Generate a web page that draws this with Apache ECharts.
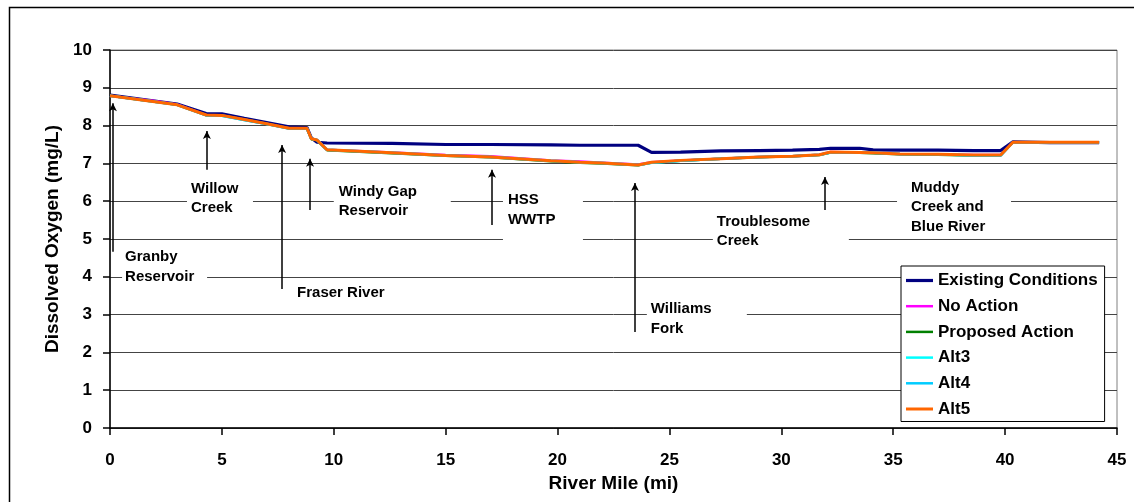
<!DOCTYPE html>
<html>
<head>
<meta charset="utf-8">
<script src="https://cdn.jsdelivr.net/npm/echarts@6/dist/echarts.min.js"></script>
<style>html,body{margin:0;padding:0;background:#fff}#c{width:1134px;height:502px}</style>
</head>
<body>
<div id="c"></div>
<script>
// ---- data ----
const miles = [0, 1, 2, 3, 4.3, 5, 6, 7, 8, 8.8, 9.0, 9.25, 9.7, 12.6, 15, 17, 19.7, 21, 22, 23.6, 24.2, 25.5, 27.3, 29, 30.5, 31.7, 32.2, 33.5, 34.1, 35.3, 37, 38.6, 39.8, 40.35, 42, 44.2];
const existing = [8.81, 8.73, 8.65, 8.57, 8.32, 8.31, 8.19, 8.08, 7.97, 7.95, 7.67, 7.56, 7.54, 7.53, 7.50, 7.50, 7.49, 7.48, 7.48, 7.48, 7.29, 7.30, 7.33, 7.34, 7.35, 7.37, 7.40, 7.40, 7.36, 7.35, 7.35, 7.34, 7.34, 7.57, 7.55, 7.55];
const noAction = [8.79, 8.72, 8.65, 8.56, 8.28, 8.27, 8.16, 8.05, 7.93, 7.93, 7.65, 7.62, 7.36, 7.29, 7.22, 7.19, 7.08, 7.05, 7.02, 6.97, 7.03, 7.08, 7.12, 7.17, 7.19, 7.23, 7.30, 7.29, 7.28, 7.25, 7.24, 7.22, 7.22, 7.56, 7.56, 7.56];
const proposed = [8.79, 8.71, 8.63, 8.55, 8.28, 8.27, 8.16, 8.05, 7.93, 7.93, 7.64, 7.61, 7.35, 7.27, 7.20, 7.16, 7.06, 7.02, 7.00, 6.95, 7.02, 7.07, 7.12, 7.16, 7.19, 7.22, 7.29, 7.28, 7.27, 7.24, 7.23, 7.21, 7.21, 7.56, 7.56, 7.56];
const alt3 = [8.79, 8.71, 8.63, 8.55, 8.27, 8.26, 8.15, 8.04, 7.92, 7.92, 7.65, 7.62, 7.36, 7.28, 7.21, 7.17, 7.07, 7.03, 7.01, 6.96, 7.02, 7.07, 7.12, 7.17, 7.19, 7.23, 7.29, 7.28, 7.28, 7.25, 7.24, 7.21, 7.21, 7.56, 7.56, 7.56];
const alt4 = [8.79, 8.71, 8.63, 8.55, 8.27, 8.26, 8.15, 8.04, 7.92, 7.92, 7.65, 7.62, 7.36, 7.28, 7.21, 7.17, 7.07, 7.03, 7.01, 6.96, 7.02, 7.07, 7.12, 7.17, 7.19, 7.23, 7.29, 7.28, 7.28, 7.25, 7.24, 7.21, 7.21, 7.56, 7.56, 7.56];
const alt5 = [8.79, 8.71, 8.63, 8.55, 8.28, 8.27, 8.16, 8.05, 7.93, 7.93, 7.65, 7.62, 7.36, 7.28, 7.21, 7.17, 7.07, 7.03, 7.01, 6.96, 7.03, 7.08, 7.12, 7.17, 7.19, 7.23, 7.30, 7.29, 7.28, 7.25, 7.24, 7.22, 7.22, 7.56, 7.56, 7.56];
const seriesNames = ['Existing Conditions', 'No Action', 'Proposed Action', 'Alt3', 'Alt4', 'Alt5'];
const xTicks = [0, 5, 10, 15, 20, 25, 30, 35, 40, 45];
const yTicks = [0, 1, 2, 3, 4, 5, 6, 7, 8, 9, 10];

// annotations (data-space)
const annoText = ['Granby\nReservoir', 'Willow\nCreek', 'Fraser River', 'Windy Gap\nReservoir', 'HSS\nWWTP', 'Williams\nFork', 'Troublesome\nCreek', 'Muddy\nCreek and\nBlue River'];
const arrowMile = [0.13, 4.33, 7.69, 8.94, 17.07, 23.46, 31.95, 39.86];
const arrowFrom = [4.66, 6.83, 3.68, 5.77, 5.37, 2.54, 5.77, 5.90];
const arrowTo   = [8.59, 7.86, 7.49, 7.12, 6.83, 6.48, 6.64, 6.56];
const labelMile = [0.54, 3.44, 8.18, 10.0, 17.56, 23.99, 26.94, 35.17];
const labelVal  = [4.83, 6.64, 3.88, 6.57, 6.34, 3.45, 5.77, 6.67];

// ---- styles ----
const FONT = "'Liberation Sans', Arial, sans-serif";
const colors = ['#000080', '#FF00FF', '#008000', '#00FFFF', '#00CCFF', '#FF6600'];
const widths = [3.2, 2.5, 2.5, 2.5, 2.5, 3];
const labelPad = [[2,4,2,3],[2,4,2,4],[2,4,2,4],[2,30,4,5],[2,4,20,5],[2,4,2,4],[2,40,2,4],[2,4,2,14]];
const labelW = [78, 58, 95, 82, 71, 92, 92, 96];

const allData = [existing, noAction, proposed, alt3, alt4, alt5];
const series = allData.map((arr, i) => ({
  name: seriesNames[i],
  type: 'line',
  data: miles.map((m, j) => [m, arr[j]]),
  symbol: 'none',
  lineStyle: { color: colors[i], width: widths[i] },
  itemStyle: { color: colors[i] },
  z: 2 + i * 0.1,
  silent: true
}));

series.push({
  name: 'labels',
  type: 'line',
  data: [],
  z: 5,
  silent: true,
  markPoint: {
    silent: true,
    symbol: 'circle',
    symbolSize: 0,
    data: annoText.map((t, i) => ({
      coord: [labelMile[i], labelVal[i]],
      label: {
        show: true,
        formatter: t,
        position: [0, 0],
        align: 'left',
        verticalAlign: 'top',
        fontFamily: FONT,
        fontSize: 15,
        fontWeight: 'bold',
        lineHeight: 19.5,
        color: '#000',
        backgroundColor: '#fff',
        padding: labelPad[i],
        width: labelW[i]
      }
    }))
  }
});

series.push({
  name: 'arrows',
  type: 'line',
  data: [],
  z: 8,
  silent: true,
  markLine: {
    silent: true,
    symbol: ['none', 'arrow'],
    symbolSize: [6, 8],
    precision: 3,
    label: { show: false },
    lineStyle: { color: '#000', width: 1.5, type: 'solid' },
    data: arrowMile.map((m, i) => [
      { coord: [m, arrowFrom[i]] },
      { coord: [m, arrowTo[i]] }
    ])
  }
});

const chart = echarts.init(document.getElementById('c'), null, { renderer: 'canvas' });
chart.setOption({
  animation: false,
  backgroundColor: '#fff',
  textStyle: { fontFamily: FONT },
  graphic: [{
    type: 'rect', left: 7, top: 5, z: 100,
    shape: { width: 1140, height: 520 },
    style: { fill: 'none', stroke: '#000', lineWidth: 1.5 }
  }],
  grid: { left: 110, right: 17, top: 50, bottom: 74, show: true, borderColor: '#808080', borderWidth: 1 },
  legend: {
    data: seriesNames.map((n, i) => ({
      name: n,
      icon: 'path://M0,0H100V' + (widths[i] * 100 / 27).toFixed(2) + 'H0Z',
      itemStyle: { color: colors[i] }
    })),
    orient: 'vertical',
    left: 901,
    top: 266,
    backgroundColor: '#fff',
    borderColor: '#000',
    borderWidth: 1,
    padding: [6, 7, 4, 5],
    itemWidth: 27,
    itemHeight: 17,
    itemGap: 8.7,
    symbolKeepAspect: true,
    textStyle: { fontFamily: FONT, fontSize: 17, fontWeight: 'bold', color: '#000', padding: [0, 0, 0, 0] },
    z: 20
  },
  xAxis: {
    type: 'value', min: 0, max: 45, interval: 5,
    name: 'River Mile (mi)', nameLocation: 'middle', nameGap: 46,
    nameTextStyle: { fontFamily: FONT, fontSize: 19, fontWeight: 'bold', color: '#000' },
    axisLine: { lineStyle: { color: '#000', width: 1.5 } },
    axisTick: { show: true, inside: false, length: 7, lineStyle: { color: '#000', width: 1.5 } },
    axisLabel: { fontFamily: FONT, fontSize: 17, fontWeight: 'bold', color: '#000', margin: 24,
      formatter: v => xTicks.includes(v) ? String(v) : '' },
    splitLine: { show: false }
  },
  yAxis: {
    type: 'value', min: 0, max: 10, interval: 1,
    name: 'Dissolved Oxygen (mg/L)', nameLocation: 'middle', nameGap: 48, nameRotate: 90,
    nameTextStyle: { fontFamily: FONT, fontSize: 19, fontWeight: 'bold', color: '#000' },
    axisLine: { show: true, lineStyle: { color: '#000', width: 1.5 } },
    axisTick: { show: true, inside: false, length: 7, lineStyle: { color: '#000', width: 1.5 } },
    axisLabel: { fontFamily: FONT, fontSize: 17, fontWeight: 'bold', color: '#000', margin: 18,
      formatter: v => yTicks.includes(v) ? String(v) : '' },
    splitLine: { show: true, lineStyle: { color: '#444', width: 1 } }
  },
  series: series
});
</script>
</body>
</html>
